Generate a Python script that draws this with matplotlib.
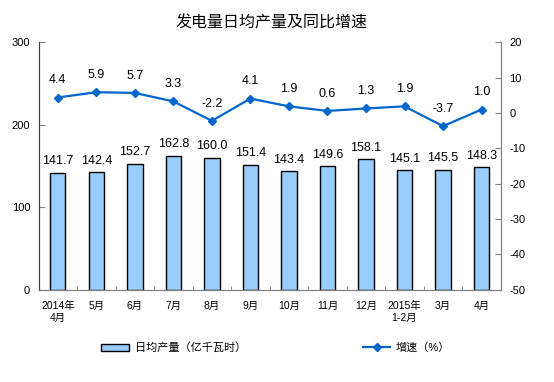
import numpy as np
import matplotlib
matplotlib.use("Agg")
import matplotlib.pyplot as plt

plt.rcParams['font.family'] = ['Liberation Sans', 'Noto Sans CJK SC']
plt.rcParams['axes.unicode_minus'] = False

# ==========================================
# DATA
# ==========================================

months = ["2014年\n4月", "5月", "6月", "7月", "8月", "9月",
          "10月", "11月", "12月", "2015年\n1-2月", "3月", "4月"]
output = [141.7, 142.4, 152.7, 162.8, 160.0, 151.4,
          143.4, 149.6, 158.1, 145.1, 145.5, 148.3]
growth = [4.4, 5.9, 5.7, 3.3, -2.2, 4.1,
          1.9, 0.6, 1.3, 1.9, -3.7, 1.0]

left_ticks = [0, 100, 200, 300]
right_ticks = [-50, -40, -30, -20, -10, 0, 10, 20]

BAR_COLOR = "#99CCFF"
LINE_COLOR = "#0066CC"
AXIS_COLOR = "#808080"

# ==========================================
# FIGURE
# ==========================================

fig = plt.figure(figsize=(5.54, 3.82), dpi=100)
ax1 = fig.add_axes([0.0695, 0.2416, 0.8345, 0.6474])
ax2 = ax1.twinx()

x = np.arange(len(months))

ax1.bar(x, output, width=0.4, color=BAR_COLOR,
        edgecolor="black", linewidth=1.0,
        label="日均产量（亿千瓦时）")

for xi, v in zip(x, output):
    ax1.annotate(f"{v:.1f}", (xi, v), xytext=(0, 4),
                 textcoords="offset points", ha="center", va="bottom",
                 fontsize=9)

ax2.plot(x, growth, color=LINE_COLOR, linewidth=1.6,
         marker="D", markersize=4.5, label="增速（%）")

for xi, v in zip(x, growth):
    ax2.annotate(f"{v:.1f}", (xi, v), xytext=(0, 8),
                 textcoords="offset points", ha="center", va="bottom",
                 fontsize=9)

# ==========================================
# AXES
# ==========================================

ax1.set_xlim(-0.5, len(months) - 0.5)
ax1.set_ylim(0, 300)
ax2.set_ylim(-50, 20)

ax1.set_yticks(left_ticks)
ax2.set_yticks(right_ticks)
ax1.tick_params(axis="y", direction="in", length=4, labelsize=8,
                color=AXIS_COLOR, pad=6)
ax2.tick_params(axis="y", direction="in", length=4, labelsize=8,
                color=AXIS_COLOR, pad=6)

ax1.set_xticks(x)
ax1.set_xticklabels(months, fontsize=7.5, linespacing=1.3)
ax1.tick_params(axis="x", length=0, pad=8)
ax1.set_xticks(np.arange(len(months) + 1) - 0.5, minor=True)
ax1.tick_params(axis="x", which="minor", direction="in", length=3,
                color=AXIS_COLOR)

for ax in (ax1, ax2):
    ax.spines["top"].set_visible(False)
    ax.spines["bottom"].set_color(AXIS_COLOR)
    ax.spines["left"].set_color("#404040")
    ax.spines["right"].set_color(AXIS_COLOR)

fig.suptitle("发电量日均产量及同比增速", x=0.49, y=0.96, fontsize=11.5)

h1, l1 = ax1.get_legend_handles_labels()
h2, l2 = ax2.get_legend_handles_labels()
fig.legend(h1 + h2, l1 + l2, loc="center", bbox_to_anchor=(0.498, 0.09),
           ncol=2, frameon=False, fontsize=8, handlelength=2.5,
           handleheight=0.6, columnspacing=10.5, handletextpad=0.5)

plt.savefig("out.png", dpi=100)
plt.close()
